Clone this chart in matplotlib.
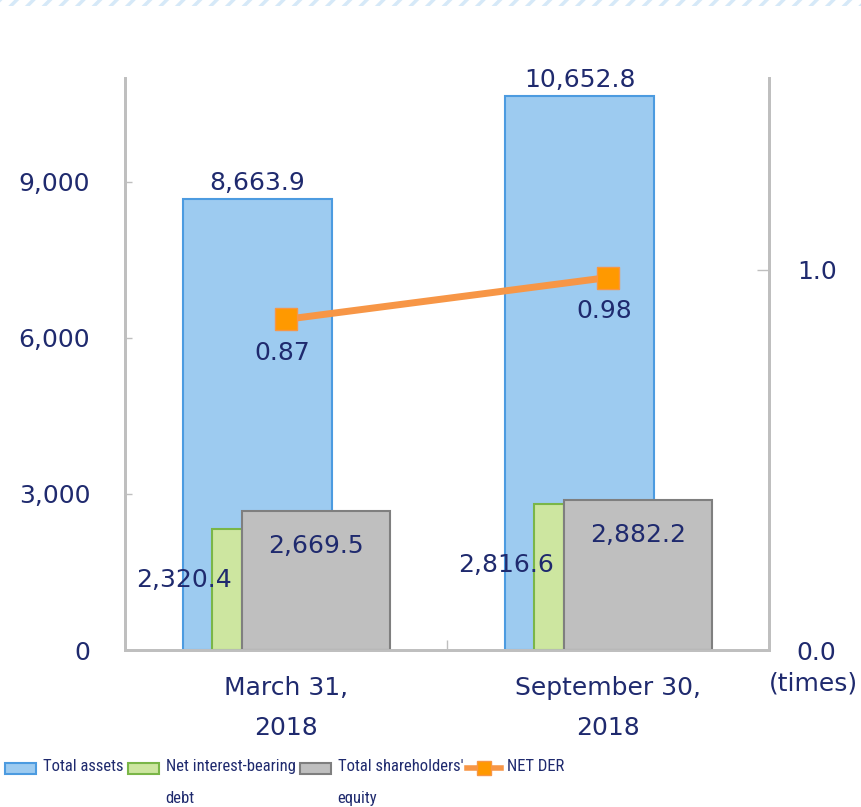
import numpy as np
import matplotlib
matplotlib.use("Agg")
import matplotlib.pyplot as plt
from matplotlib.patches import Rectangle
from matplotlib.lines import Line2D

categories = ["March 31,\n2018", "September 30,\n2018"]
total_assets = [8663.9, 10652.8]
net_debt = [2320.4, 2816.6]
equity = [2669.5, 2882.2]
net_der = [0.87, 0.98]
left_ticks = [0, 3000, 6000, 9000]
right_ticks = [0.0, 1.0]
legend_labels = ["Total assets", "Net interest-bearing\ndebt", "Total shareholders'\nequity", "NET DER"]

TXT = "#1f2a6e"
BLUE, BLUE_E = "#9dcbf0", "#4c9be0"
GREEN, GREEN_E = "#cde6a0", "#7ab648"
GRAY, GRAY_E = "#bfbfbf", "#7f7f7f"
ORANGE, ORANGE_M = "#f79646", "#ff9900"
SPINE = "#bfbfbf"
FS = 18
W, H = 861, 807

plt.rcParams["font.family"] = ["DejaVu Sans"]
plt.rcParams["hatch.linewidth"] = 2.5

fig = plt.figure(figsize=(W / 100, H / 100), dpi=100)
ax = fig.add_axes([125 / W, 1 - 650 / H, 644 / W, 572 / H])
ax2 = ax.twinx()

x = np.arange(len(categories))

# bars (offsets in category units)
ax.bar(x - 0.32, total_assets, width=0.463, align="edge", color=BLUE, edgecolor=BLUE_E, linewidth=1.5, zorder=2)
ax.bar(x - 0.23, net_debt, width=0.093, align="edge", color=GREEN, edgecolor=GREEN_E, linewidth=1.5, zorder=3)
ax.bar(x - 0.137, equity, width=0.46, align="edge", color=GRAY, edgecolor=GRAY_E, linewidth=1.5, zorder=4)

ax.set_xlim(-0.5, 1.5)
ax.set_ylim(0, 11000)
ax2.set_ylim(0, 1.505)

# data labels
for xi, v in zip(x, total_assets):
    ax.annotate(f"{v:,.1f}", (xi - 0.32 + 0.463 / 2, v), xytext=(0, 3), textcoords="offset points",
                ha="center", va="bottom", fontsize=FS, color=TXT, zorder=6)
for xi, v in zip(x, net_debt):
    ax.annotate(f"{v:,.1f}", (xi - 0.23 + 0.093 / 2 - 0.134, v * 0.58), ha="center", va="center",
                fontsize=FS, color=TXT, zorder=6)
for xi, v in zip(x, equity):
    ax.annotate(f"{v:,.1f}", (xi - 0.137 + 0.23, v), xytext=(0, -25), textcoords="offset points",
                ha="center", va="center", fontsize=FS, color=TXT, zorder=6)

ax2.plot(x, net_der, color=ORANGE, linewidth=5, marker="s", markersize=16,
         markerfacecolor=ORANGE_M, markeredgecolor=ORANGE, markeredgewidth=1, zorder=5)
for xi, v in zip(x, net_der):
    ax2.annotate(f"{v:.2f}", (xi, v), xytext=(-3, -24), textcoords="offset points",
                 ha="center", va="center", fontsize=FS, color=TXT)

# axes styling
for a in (ax, ax2):
    for s in a.spines.values():
        s.set_color(SPINE)
        s.set_linewidth(2)
    a.spines["top"].set_visible(False)
ax.set_yticks(left_ticks)
ax.set_yticklabels([f"{t:,}" for t in left_ticks])
ax.tick_params(axis="y", direction="in", length=5, width=1, color=SPINE, pad=25, labelsize=FS, labelcolor=TXT)
ax2.set_yticks(right_ticks)
ax2.set_yticklabels([f"{t:.1f}" for t in right_ticks])
ax2.tick_params(axis="y", direction="in", length=9, width=1, color=SPINE, pad=20, labelsize=FS, labelcolor=TXT)

ax.set_xticks([0.5])
ax.set_xticklabels([])
ax.tick_params(axis="x", which="major", direction="in", length=7, width=1, color=SPINE)
ax.set_xticks(x, minor=True)
ax.set_xticklabels(categories, minor=True, linespacing=1.82)
ax.tick_params(axis="x", which="minor", length=0, pad=19, labelsize=FS, labelcolor=TXT)

fig.text(813 / W, 1 - 683 / H, "(times)", ha="center", va="center", fontsize=FS, color=TXT)

# top hatched strip
fig.patches.append(Rectangle((0, 1 - 6 / H), 1, 6 / H, transform=fig.transFigure, facecolor="none",
                             edgecolor="#d6e9f8", hatch="//", linewidth=0))

# legend, drawn by hand so the wrapped labels keep their handles on the first line
renderer = fig.canvas.get_renderer()
ly = 1 - 768 / H
px = 5
handles = [(BLUE, BLUE_E), (GREEN, GREEN_E), (GRAY, GRAY_E), None]
for hnd, lab in zip(handles, legend_labels):
    if hnd is None:
        fig.lines.append(Line2D([px / W, (px + 34) / W], [ly, ly], transform=fig.transFigure,
                                color=ORANGE, linewidth=4))
        fig.lines.append(Line2D([(px + 17) / W], [ly], transform=fig.transFigure, marker="s", markersize=10,
                                markerfacecolor=ORANGE_M, markeredgecolor=ORANGE, linestyle="none"))
        px += 40
    else:
        fig.patches.append(Rectangle((px / W, ly - 5.5 / H), 31 / W, 11 / H, transform=fig.transFigure,
                                     facecolor=hnd[0], edgecolor=hnd[1], linewidth=1.5))
        px += 38
    t = fig.text(px / W, ly + 9 / H, lab, ha="left", va="top", fontsize=12, color=TXT,
                 family=["Roboto Condensed", "Roboto", "DejaVu Sans"], linespacing=2.4)
    px += t.get_window_extent(renderer).width + 4

fig.savefig("out.png", dpi=100)
